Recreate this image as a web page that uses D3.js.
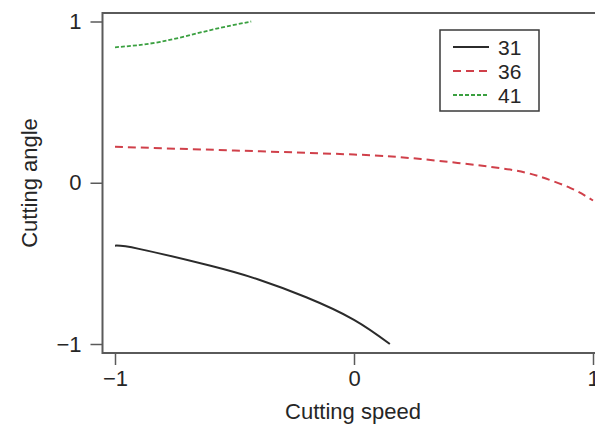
<!DOCTYPE html>
<html>
<head>
<meta charset="utf-8">
<script src="https://cdn.jsdelivr.net/npm/d3@7"></script>
<style>
  body { margin: 0; background: #fff; }
  text { font-family: "Liberation Sans", Arial, sans-serif; fill: #262626; }
</style>
</head>
<body>
<svg width="595" height="431"></svg>
<script>
// data
let levels = ['31', '36', '41'];
let speed31 = [-1, -0.9, -0.6, -0.4, -0.2, 0, 0.15];
let angle31 = [-0.39, -0.41, -0.515, -0.60, -0.71, -0.85, -1.0];
let speed36 = [-1, -0.5, 0, 0.28, 0.615, 0.78, 0.906, 1];
let angle36 = [0.223, 0.20, 0.175, 0.147, 0.09, 0.037, -0.033, -0.11];
let speed41 = [-1, -0.81, -0.6, -0.43];
let angle41 = [0.84, 0.874, 0.947, 1.0];
let xTicks = [-1, 0, 1];
let yTicks = [-1, 0, 1];

let svg = d3.select('svg');

let x = d3.scaleLinear().domain([-1, 1]).range([115, 593]);
let y = d3.scaleLinear().domain([-1, 1]).range([344, 21.5]);

// plot frame (right side falls off the picture)
let box = { left: 102.5, top: 13, bottom: 353, right: 610 };
svg.append('rect')
    .attr('x', box.left).attr('y', box.top)
    .attr('width', box.right - box.left).attr('height', box.bottom - box.top)
    .attr('fill', 'none').attr('stroke', '#5a5a5a').attr('stroke-width', 2);

// axes
let fmt = d => d < 0 ? '\u2212' + Math.abs(d) : d;
let xAxis = d3.axisBottom(x).tickValues(xTicks).tickSize(12).tickPadding(5).tickFormat(fmt);
let gx = svg.append('g').attr('transform', 'translate(0,' + box.bottom + ')').call(xAxis);
gx.select('.domain').remove();

let yAxis = d3.axisLeft(y).tickValues(yTicks).tickSize(12).tickPadding(9).tickFormat(fmt);
let gy = svg.append('g').attr('transform', 'translate(' + box.left + ',0)').call(yAxis);
gy.select('.domain').remove();

svg.selectAll('.tick line').attr('stroke', '#5a5a5a').attr('stroke-width', 1.5);
svg.selectAll('.tick text').attr('font-size', 22).attr('fill', '#262626')
    .style('font-family', '"Liberation Sans", Arial, sans-serif');

// axis titles
svg.append('text')
    .attr('x', 353).attr('y', 419)
    .attr('text-anchor', 'middle').attr('font-size', 22)
    .text('Cutting speed');
svg.append('text')
    .attr('transform', 'translate(37,183) rotate(-90)')
    .attr('text-anchor', 'middle').attr('font-size', 22)
    .text('Cutting angle');

// curves
let series = [
    { name: levels[0], xs: speed31, ys: angle31, color: '#2b2b2b', dash: null, w: 2 },
    { name: levels[1], xs: speed36, ys: angle36, color: '#d0404a', dash: '8,5', w: 2 },
    { name: levels[2], xs: speed41, ys: angle41, color: '#3aa040', dash: '4,2', w: 1.8 }
];

let line = d3.line()
    .x(d => x(d[0]))
    .y(d => y(d[1]))
    .curve(d3.curveNatural);

svg.append('g')
    .selectAll('path')
    .data(series)
    .enter().append('path')
    .attr('d', s => line(s.xs.map((v, i) => [v, s.ys[i]])))
    .attr('fill', 'none')
    .attr('stroke', s => s.color)
    .attr('stroke-width', s => s.w)
    .attr('stroke-dasharray', s => s.dash);

// legend
let legend = svg.append('g');
legend.append('rect')
    .attr('x', 440).attr('y', 30).attr('width', 99).attr('height', 81)
    .attr('fill', '#fff').attr('stroke', '#3a3a3a').attr('stroke-width', 1.5);

let items = legend.selectAll('g.item')
    .data(series)
    .enter().append('g')
    .attr('class', 'item')
    .attr('transform', (d, i) => 'translate(0,' + (47 + i * 24) + ')');
items.append('line')
    .attr('x1', 453).attr('x2', 489).attr('y1', 0).attr('y2', 0)
    .attr('stroke', d => d.color)
    .attr('stroke-width', d => d.w)
    .attr('stroke-dasharray', d => d.dash);
items.append('text')
    .attr('x', 498).attr('y', 7.5)
    .attr('font-size', 21)
    .text(d => d.name);
</script>
</body>
</html>
